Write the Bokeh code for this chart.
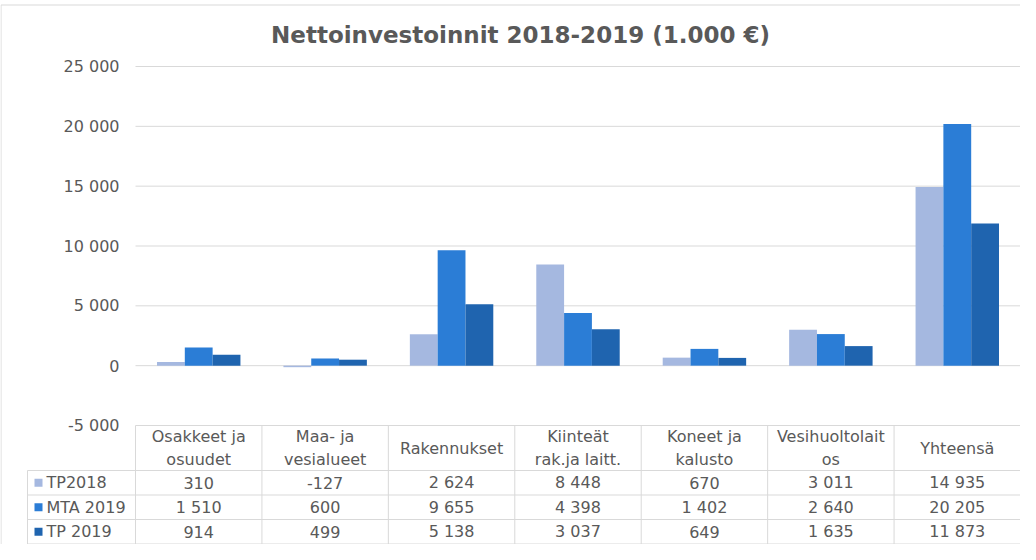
from bokeh.plotting import figure
from bokeh.models import Range1d, ColumnDataSource
from bokeh.transform import dodge
from bokeh.core.properties import value
from bokeh.embed import file_html
from bokeh.resources import INLINE

# ---------------- data ----------------
title_text = "Nettoinvestoinnit 2018-2019 (1.000 €)"
categories = ["Osakkeet ja\nosuudet", "Maa- ja\nvesialueet", "Rakennukset",
              "Kiinteät\nrak.ja laitt.", "Koneet ja\nkalusto", "Vesihuoltolait\nos", "Yhteensä"]
series_names = ["TP2018", "MTA 2019", "TP 2019"]
tp2018 = [310, -127, 2624, 8448, 670, 3011, 14935]
mta2019 = [1510, 600, 9655, 4398, 1402, 2640, 20205]
tp2019 = [914, 499, 5138, 3037, 649, 1635, 11873]
y_ticks = [-5000, 0, 5000, 10000, 15000, 20000, 25000]

# ---------------- style / layout ----------------
colors = ["#a5b8e0", "#2b7dd6", "#1f64af"]
FONT = value("DejaVu Sans")
TXT = "#595959"
GRID = "#d9d9d9"
W, H = 1020, 544
PLOT_LEFT = 135     # canvas px of first category boundary
PLOT_TOP = 66       # canvas px of highest tick
PLOT_BOT = 425      # canvas px of lowest tick
HEADER_H = 45
ROW_H = 24.5
LEG_LEFT = 27
BAR_W = 0.22


def fmt(v):
    return f"{v:,}".replace(",", " ")


series_values = [tp2018, mta2019, tp2019]
n = len(categories)
cw = (W - PLOT_LEFT) / n
ymin, ymax = min(y_ticks), max(y_ticks)
k = (ymax - ymin) / (PLOT_BOT - PLOT_TOP)

p = figure(width=W, height=H, output_backend="svg", toolbar_location=None,
           x_range=Range1d(-PLOT_LEFT / cw, n),
           y_range=Range1d(ymin - (H - PLOT_BOT) * k, ymax + PLOT_TOP * k),
           x_axis_location=None, y_axis_location=None, min_border=0)
p.extra_x_ranges = {"px": Range1d(0, W)}
p.extra_y_ranges = {"px": Range1d(H, 0)}
p.grid.visible = False
p.outline_line_color = None
p.background_fill_color = "white"
p.border_fill_color = "white"

# outer chart border
p.segment(x0=[0.5, 0.5], y0=[4.5, 4.5], x1=[W, 0.5], y1=[4.5, H],
          x_range_name="px", y_range_name="px", line_color=GRID, line_width=1)

# title
p.text(x=[520], y=[34], text=[title_text], x_range_name="px", y_range_name="px",
       text_font=FONT, text_font_size="23px", text_font_style="bold", text_color=TXT,
       text_align="center", text_baseline="middle")

# value gridlines and tick labels
p.segment(x0=0, x1=n, y0=y_ticks, y1=y_ticks, line_color=GRID, line_width=1)
p.text(x=-16 / cw, y=y_ticks, text=[fmt(t) for t in y_ticks], text_font=FONT,
       text_font_size="16px", text_color=TXT, text_align="right", text_baseline="middle")

# bars
src = ColumnDataSource(dict(xc=[i + 0.5 for i in range(n)],
                            s0=tp2018, s1=mta2019, s2=tp2019))
for j in range(3):
    p.vbar(x=dodge("xc", (j - 1) * BAR_W), top=f"s{j}", bottom=0, width=BAR_W,
           source=src, fill_color=colors[j], line_color=None)

# ---------------- data table ----------------
T0 = PLOT_BOT
T1 = T0 + HEADER_H
row_tops = [T1 + r * ROW_H for r in range(len(series_names) + 1)]
T_END = row_tops[-1]
leg_x = (LEG_LEFT - PLOT_LEFT) / cw

# vertical lines at category boundaries
p.segment(x0=list(range(n + 1)), x1=list(range(n + 1)), y0=T0, y1=T_END,
          y_range_name="px", line_color=GRID, line_width=1)
# legend column left edge
p.segment(x0=[leg_x], x1=[leg_x], y0=[T1], y1=[T_END],
          y_range_name="px", line_color=GRID, line_width=1)
# horizontal row lines
p.segment(x0=leg_x, x1=n, y0=row_tops, y1=row_tops,
          y_range_name="px", line_color=GRID, line_width=1)

# header labels
p.text(x=[i + 0.5 for i in range(n)], y=[(T0 + T1) / 2] * n, text=categories,
       y_range_name="px", text_font=FONT, text_font_size="16px", text_color=TXT,
       text_align="center", text_baseline="middle", text_line_height=1.2)

# values
for r, vals in enumerate(series_values):
    yc = T1 + (r + 0.5) * ROW_H
    p.text(x=[i + 0.5 for i in range(n)], y=[yc] * n, text=[fmt(v) for v in vals],
           y_range_name="px", text_font=FONT, text_font_size="16px", text_color=TXT,
           text_align="center", text_baseline="middle")

# legend keys
row_centers = [T1 + (r + 0.5) * ROW_H for r in range(len(series_names))]
p.scatter(x=[38] * len(series_names), y=row_centers, marker="square", size=8,
          fill_color=colors, line_color=None, x_range_name="px", y_range_name="px")
p.text(x=[46] * len(series_names), y=row_centers, text=series_names,
       x_range_name="px", y_range_name="px", text_font=FONT, text_font_size="16px",
       text_color=TXT, text_align="left", text_baseline="middle")

open("out.html", "w").write(file_html(p, INLINE))
